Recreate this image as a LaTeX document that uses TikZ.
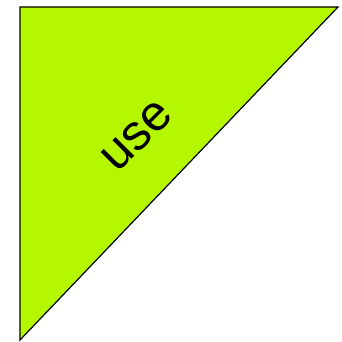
\documentclass[tikz,border=0pt]{standalone}
\usepackage{fontspec}
\setmainfont{Liberation Sans}
\definecolor{lime}{RGB}{181,247,0}
\begin{document}
\begin{tikzpicture}[x=1pt,y=1pt]
\useasboundingbox (0,0) rectangle (342,341);
\filldraw[fill=lime,draw=black,line width=1.2pt,line join=miter] (20,334) -- (338,334) -- (20,1) -- cycle;
\node[rotate=45,inner sep=0pt] (t) at (137,205) {\fontsize{50}{54}\selectfont use};
\end{tikzpicture}
\end{document}
